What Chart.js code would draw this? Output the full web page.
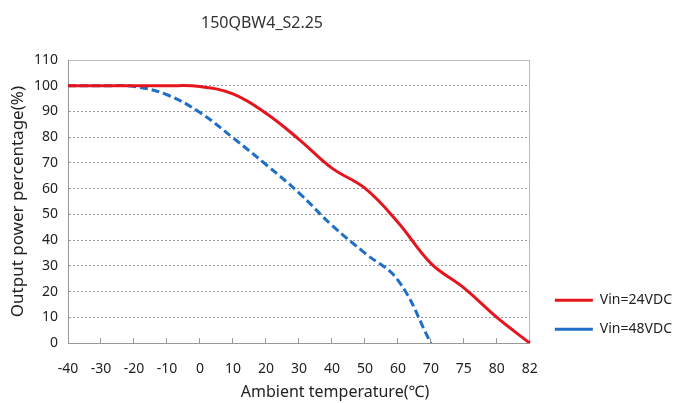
<!DOCTYPE html>
<html>
<head>
<meta charset="utf-8">
<script src="https://cdn.jsdelivr.net/npm/chart.js@4"></script>
<style>
  html, body { margin: 0; padding: 0; background: #fff; }
  #chart { display: block; }
</style>
</head>
<body>
<canvas id="chart" width="678" height="403"></canvas>
<script>
// temperaturas do eixo x (categorias igualmente espaçadas)
const temps = ['-40', '-30', '-20', '-10', '0', '10', '20', '30', '40', '50', '60', '70', '75', '80', '82'];

// curvas de derating (%)
const vin24 = [100, 100, 100, 100, 99.7, 96.8, 89.3, 79.2, 68, 60.2, 47, 31, 21.5, 10, 0];
const vin48 = [100, 100, 99.7, 96.5, 89.6, 79.8, 69.4, 58.4, 45.8, 35, 24.5, 0, null, null, null];

// ticks do eixo y
const yMin = 0, yMax = 110, yStep = 10;

const fontFamily = "'Noto Sans', 'DejaVu Sans', sans-serif";

// textos fora da área do gráfico (título e nome do eixo x)
const extraText = {
  id: 'extraText',
  afterDraw(chart) {
    const ctx = chart.ctx;
    ctx.save();
    ctx.textAlign = 'center';
    ctx.textBaseline = 'middle';
    ctx.fillStyle = '#333';
    ctx.font = "16px " + fontFamily;
    ctx.fillText('150QBW4_S2.25', 262, 23);
    ctx.fillStyle = '#222';
    ctx.fillText('Ambient temperature(℃)', 335, 392);
    ctx.restore();
  }
};

// empurra a legenda um pouco para baixo e para a direita
const legendShift = {
  id: 'legendShift',
  afterLayout(chart) {
    const lg = chart.legend;
    if (lg) {
      lg.top += 8;
      lg.bottom += 8;
      lg.left += 10;
      lg.right += 10;
    }
  }
};

const ctx = document.getElementById('chart').getContext('2d');
new Chart(ctx, {
  type: 'line',
  data: {
    labels: temps,
    datasets: [
      {
        label: 'Vin=24VDC',
        data: vin24,
        borderColor: '#e6141c',
        backgroundColor: '#e6141c',
        borderWidth: 3,
        tension: 0.4,
        pointRadius: 0,
        fill: false
      },
      {
        label: 'Vin=48VDC',
        data: vin48,
        borderColor: '#1f6fc8',
        backgroundColor: '#1f6fc8',
        borderWidth: 3,
        borderDash: [8, 4],
        tension: 0.4,
        pointRadius: 0,
        fill: false,
        spanGaps: false
      }
    ]
  },
  options: {
    responsive: false,
    animation: false,
    devicePixelRatio: 1,
    layout: {
      padding: { top: 52, bottom: 4, left: 4, right: 6 }
    },
    scales: {
      x: {
        type: 'category',
        offset: false,
        grid: {
          drawOnChartArea: true,
          // só a última linha vertical aparece (borda direita)
          color: (c) => c.index === temps.length - 1 ? '#bbb' : 'transparent',
          drawTicks: true,
          tickLength: -5,
          tickColor: '#999'
        },
        border: { color: '#999', width: 1 },
        ticks: {
          color: '#222',
          padding: 22,
          autoSkip: false,
          maxRotation: 0,
          font: { family: fontFamily, size: 14 }
        }
      },
      x2: {
        type: 'category',
        position: 'top',
        labels: temps,
        offset: false,
        grid: { display: false },
        border: { color: '#bbb', width: 1 },
        ticks: { display: false }
      },
      y: {
        min: yMin,
        max: yMax,
        afterFit(scale) { scale.width = 64; },
        ticks: {
          stepSize: yStep,
          color: '#222',
          padding: 10,
          font: { family: fontFamily, size: 14 }
        },
        grid: {
          color: '#9a9a9a',
          lineWidth: 1,
          drawTicks: false
        },
        border: { color: '#999', width: 1, dash: [2, 2] },
        title: {
          display: true,
          text: 'Output power percentage(%)',
          color: '#222',
          padding: { top: 4, bottom: 6 },
          font: { family: fontFamily, size: 17 }
        }
      }
    },
    plugins: {
      title: { display: false },
      tooltip: { enabled: false },
      legend: {
        display: true,
        position: 'right',
        align: 'end',
        fullSize: false,
        labels: {
          usePointStyle: true,
          pointStyle: 'line',
          pointStyleWidth: 38,
          color: '#222',
          padding: 15,
          font: { family: fontFamily, size: 14 }
        }
      }
    }
  },
  plugins: [extraText, legendShift]
});
</script>
</body>
</html>
